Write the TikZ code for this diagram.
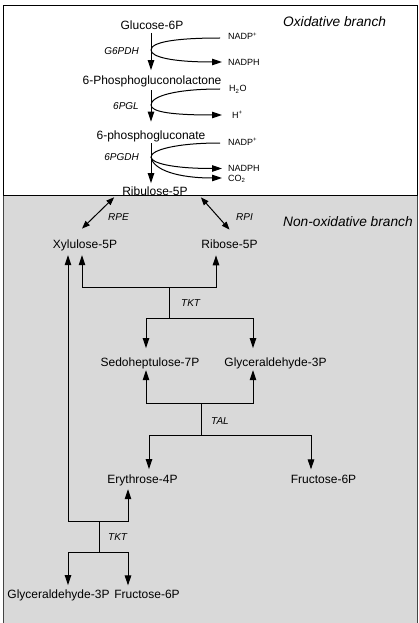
\documentclass[tikz,border=0pt]{standalone}
\usepackage{fontspec}
\setmainfont{Liberation Sans}
\usetikzlibrary{arrows.meta,calc}
\definecolor{panelgrey}{HTML}{D9D9D9}
\definecolor{bordergrey}{HTML}{444444}
\begin{document}
\begin{tikzpicture}[x=1pt,y=-1pt,
  met/.style={font=\fontsize{12}{14}\selectfont, inner sep=1pt, anchor=base},
  sm/.style={font=\fontsize{9}{11}\selectfont, inner sep=1pt, anchor=base west},
  enz/.style={font=\fontsize{10}{12}\selectfont\itshape, inner sep=1pt},
  ttl/.style={font=\fontsize{13.7}{16}\selectfont\itshape, inner sep=0pt, anchor=base west},
  ln/.style={line width=1pt},
  arr/.style={line width=1pt, -{Triangle[length=10pt,width=6.5pt]}},
  dbl/.style={line width=1pt, {Triangle[length=8pt,width=6pt]}-{Triangle[length=8pt,width=6pt]}}]
\useasboundingbox (0,0) rectangle (419,623);
% panels
\fill[white] (0,0) rectangle (419,623);
\fill[panelgrey] (3,195) rectangle (417,623);
\draw[bordergrey, line width=1pt] (3,624) -- (3,195) -- (417,195) -- (417,624);
\draw[line width=1pt] (3,6) rectangle (417,195);
% titles
\node[ttl] (ox) at (283,27) {Oxidative branch};
\node[ttl] (nonox) at (283,226) {Non-oxidative branch};
% oxidative metabolites
\node[met] (g6p) at (152,29.5) {Glucose-6P};
\node[met] (pgl) at (152,85) {6-Phosphogluconolactone};
\node[met] (pg) at (151,139.5) {6-phosphogluconate};
\node[met] (ru5p) at (155,195) {Ribulose-5P};
% cofactors
\node[sm] (nadpa) at (227,40) {NADP\textsuperscript{+}};
\node[sm] (nadpha) at (227,65.5) {NADPH};
\node[sm] (h2o) at (228,92) {H\textsubscript{2}O};
\node[sm] (hplus) at (231,118) {H\textsuperscript{+}};
\node[sm] (nadpb) at (227,145.5) {NADP\textsuperscript{+}};
\node[sm] (nadphb) at (227,171.5) {NADPH};
\node[sm] (co2) at (227,181.5) {CO\textsubscript{2}};
% enzymes
\node[enz, anchor=base east] (g6pdh) at (140,55) {G6PDH};
\node[enz, anchor=base east] (e6pgl) at (140,110) {6PGL};
\node[enz, anchor=base east] (e6pgdh) at (140,160.5) {6PGDH};
% main oxidative arrows
\coordinate (v1) at (151,50);
\coordinate (v2) at (151,105);
\coordinate (v3) at (151,157);
\draw[arr, shorten <=2pt, shorten >=5pt] (g6p.south -| v1) -- (pgl.north -| v1);
\draw[arr, shorten <=1.5pt, shorten >=8pt] (pgl.south -| v2) -- (pg.north -| v2);
\draw[arr, shorten >=2pt] (pg.south -| v3) -- (ru5p.north -| v3);
% cofactor curves
\draw[ln] ($(nadpa.base west)+(-7,-2)$) .. controls (176,38) and (151,42) .. (v1);
\draw[arr] (v1) .. controls (151,57) and (172,62) .. ($(nadpha.base west)+(-5,-3.5)$);
\draw[ln] ($(h2o.base west)+(-8,-3)$) .. controls (176,89) and (151,96) .. (v2);
\draw[arr] (v2) .. controls (151,112) and (172,115) .. ($(hplus.base west)+(-9,-3)$);
\draw[ln] ($(nadpb.base west)+(-7,-2.5)$) .. controls (176,143) and (151,150) .. (v3);
\draw[arr] (v3) .. controls (151,163) and (172,168.5) .. ($(nadphb.base west)+(-5,-3)$);
\draw[arr] (v3) .. controls (153,170) and (178,178) .. ($(co2.base west)+(-5,-3.5)$);
% non-oxidative metabolites
\node[met] (xyl) at (85,248.5) {Xylulose-5P};
\node[met] (rib) at (229.5,248.5) {Ribose-5P};
\node[met] (sed) at (150,366) {Sedoheptulose-7P};
\node[met] (gla) at (275.5,366) {Glyceraldehyde-3P};
\node[met] (ery) at (142.5,483) {Erythrose-4P};
\node[met] (fru) at (323.5,483) {Fructose-6P};
\node[met] (gla2) at (58.5,598) {Glyceraldehyde-3P};
\node[met] (fru2) at (147,598) {Fructose-6P};
% enzymes non-oxidative
\node[enz, anchor=base west] (rpe) at (107,220.5) {RPE};
\node[enz, anchor=base west] (rpi) at (235,220.5) {RPI};
\node[enz, anchor=base west] (tkta) at (180,306.5) {TKT};
\node[enz, anchor=base west] (tal) at (210,424) {TAL};
\node[enz, anchor=base west] (tktb) at (107,540) {TKT};
% isomerase arrows
\draw[dbl] ($(ru5p.south west)+(-7,1)$) -- ($(xyl.north)+(-3,-10)$);
\draw[dbl] ($(ru5p.south east)+(12,1)$) -- ($(rib.north)+(0,-9)$);
% TKT (first)
\coordinate (t1) at (169,287);
\coordinate (t1b) at (169,318);
\draw[arr] (t1) -| ($(xyl.south)+(-3,3)$);
\draw[arr] (t1) -| ($(rib.south)+(-13.5,5.5)$);
\draw[ln] (t1) -- (t1b);
\draw[arr] (t1b) -| ($(sed.north)+(-4,-8)$);
\draw[arr] (t1b) -| ($(gla.north)+(-22.5,-8)$);
% TAL
\coordinate (t2) at (201,403);
\coordinate (t2b) at (201,435);
\draw[arr] (t2) -| ($(sed.south)+(-4,0.5)$);
\draw[arr] (t2) -| ($(gla.south)+(-22.5,0.5)$);
\draw[ln] (t2) -- (t2b);
\draw[arr] (t2b) -| ($(ery.north)+(6.5,-4)$);
\draw[arr] (t2b) -| ($(fru.north)+(-12.5,-4)$);
% TKT (second)
\coordinate (t3) at (99,521);
\coordinate (t3b) at (99,552);
\draw[arr] (t3) -| ($(xyl.south)+(-17,3)$);
\draw[arr] (t3) -| ($(ery.south)+(-14.5,2.5)$);
\draw[ln] (t3) -- (t3b);
\draw[arr] (t3b) -| ($(gla2.north)+(9.5,-3)$);
\draw[arr] (t3b) -| ($(fru2.north)+(-19,-3)$);
\end{tikzpicture}
\end{document}
